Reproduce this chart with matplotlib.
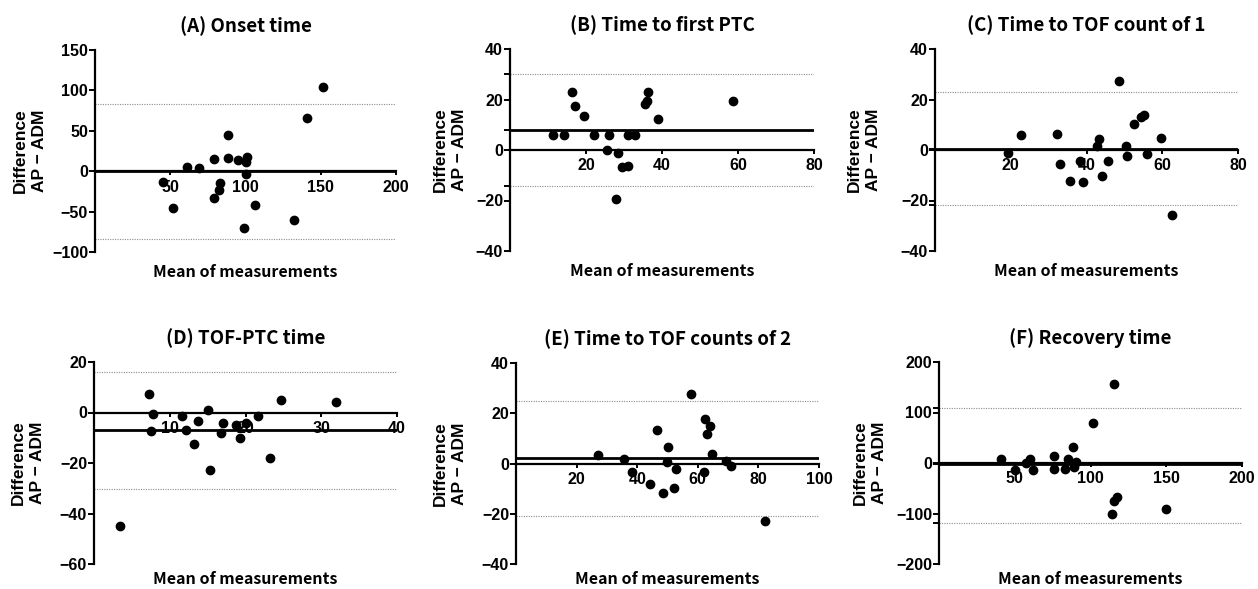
import matplotlib
matplotlib.use("Agg")
import matplotlib.pyplot as plt

a_mean = [45.5, 51.7, 61.1, 69.1, 79.2, 79.2, 82.1, 83.2, 88.3, 88.7,
          94.7, 100.0, 101.1, 100.2, 99.3, 106.4, 132.2, 140.8, 151.7]
a_diff = [-12.8, -45.7, 5.8, 3.7, 15.2, -33.0, -22.7, -14.4, 45.3, 16.1,
          14.4, 11.9, 17.3, -2.9, -70.8, -41.6, -60.5, 65.9, 103.8]

b_mean = [11.3, 14.3, 16.4, 17.2, 19.6, 22.2, 26.0, 25.4, 28.5, 27.9,
          29.6, 31.1, 31.1, 33.0, 35.4, 36.0, 36.2, 38.9, 58.6]
b_diff = [6.1, 6.1, 23.0, 17.4, 13.5, 5.8, 6.1, -0.1, -1.2, -19.3,
          -6.7, -6.5, 6.1, 6.1, 18.3, 19.3, 23.0, 12.4, 19.4]

c_mean = [19.4, 22.6, 32.3, 33.0, 35.6, 38.2, 39.2, 42.8, 43.3, 44.1,
          45.8, 48.6, 50.5, 50.8, 52.5, 54.4, 55.2, 56.1, 59.7, 62.6]
c_diff = [-1.1, 5.8, 6.5, -5.4, -12.1, -4.2, -12.6, 1.6, 4.4, -10.2,
          -4.5, 27.2, 1.7, -2.5, 10.1, 13.1, 14.0, -1.6, 4.9, -25.8]

d_mean = [3.4, 7.2, 7.8, 7.5, 11.6, 12.2, 13.2, 13.7, 15.1, 15.3,
          16.7, 17.0, 18.8, 19.3, 20.1, 21.7, 23.2, 24.7, 31.9]
d_diff = [-45.0, 7.5, -0.5, -7.5, -1.5, -6.8, -12.4, -3.4, 1.0, -22.9,
          -8.3, -4.2, -4.8, -10.2, -4.2, -1.3, -17.9, 4.8, 4.2]

e_mean = [26.9, 35.5, 38.2, 44.2, 46.6, 48.4, 50.0, 49.8, 52.2, 52.9,
          57.8, 62.1, 62.5, 62.9, 64.0, 64.6, 69.2, 71.0, 82.3]
e_diff = [3.2, 1.9, -3.4, -8.1, 13.4, -11.8, 6.5, 0.5, -9.7, -2.1,
          27.6, -3.4, 17.9, 11.7, 14.9, 3.7, 0.9, -0.8, -22.7]

f_mean = [41.1, 50.2, 57.6, 60.3, 62.3, 75.7, 75.7, 83.4, 85.1, 88.2,
          89.3, 90.6, 101.9, 114.4, 115.3, 115.5, 117.3, 149.8]
f_diff = [7.9, -14.6, -0.7, 7.9, -13.9, 13.2, -11.9, -11.9, 7.3, 31.8,
          -7.3, 1.3, 79.5, -100.7, 156.3, -74.8, -68.2, -91.4]

# bias and 95% limits of agreement (lower, bias, upper)
limits = {
    "A": (-83.6, 0.0, 83.6),
    "B": (-14.3, 7.9, 30.1),
    "C": (-21.9, 0.5, 22.9),
    "D": (-30.2, -6.8, 16.2),
    "E": (-20.7, 2.0, 24.8),
    "F": (-119.0, -2.0, 109.0),
}

titles = ["(A) Onset time", "(B) Time to first PTC", "(C) Time to TOF count of 1",
          "(D) TOF-PTC time", "(E) Time to TOF counts of 2", "(F) Recovery time"]

W, H = 1258, 589
fig = plt.figure(figsize=(W / 100, H / 100), dpi=100)

TITLE_FONT = ["Noto Sans CJK JP", "DejaVu Sans"]
TICK_FONT = "Liberation Sans"


def add_panel(box, ylab_x, xlab_y, mean, diff, key, title, xmax, ylim, xticks, yticks, lim_ticks):
    left, top, right, bottom = box
    ax = fig.add_axes([left / W, 1 - bottom / H, (right - left) / W, (bottom - top) / H])
    lo, bias, hi = limits[key]

    ax.set_xlim(0, xmax)
    ax.set_ylim(*ylim)

    # limits of agreement and bias
    ax.axhline(hi, color="#8c8c8c", lw=0.8, ls=(0, (1, 1.2)), zorder=1)
    ax.axhline(lo, color="#8c8c8c", lw=0.8, ls=(0, (1, 1.2)), zorder=1)
    ax.axhline(bias, color="black", lw=2.0, zorder=2)

    ax.scatter(mean, diff, s=36, color="black", zorder=3, clip_on=False)

    for s in ["top", "right"]:
        ax.spines[s].set_visible(False)
    ax.spines["bottom"].set_position(("data", 0))
    ax.spines["bottom"].set_linewidth(1.6)
    ax.spines["left"].set_linewidth(1.6)

    ax.set_xticks(xticks)
    ax.set_yticks(yticks)
    if lim_ticks:
        ax.set_yticks(lim_ticks, minor=True)
    ax.tick_params(axis="y", which="major", direction="out", length=4, width=1.4, pad=1)
    ax.tick_params(axis="y", which="minor", direction="out", length=4, width=1.4)
    ax.tick_params(axis="x", direction="out", length=3, width=1.4, pad=3)
    ax.set_yticklabels([f"{v:g}".replace("-", "\u2212") for v in yticks])
    for lab in ax.get_xticklabels() + ax.get_yticklabels():
        lab.set_fontfamily(TICK_FONT)
        lab.set_fontweight("bold")
        lab.set_fontsize(11.5)

    ax.set_title(title, family=TITLE_FONT, fontsize=13.5, fontweight="bold", pad=13)
    ax.set_xlabel("Mean of measurements", family=TITLE_FONT, fontsize=11.5,
                  fontweight="bold", va="center")
    ax.xaxis.set_label_coords(0.5, xlab_y)
    fig.text(ylab_x / W, 1 - (top + bottom) / 2 / H, "Difference\nAP \u2212 ADM",
             rotation=90, ha="center", va="center", family=TICK_FONT,
             fontsize=12.5, fontweight="bold", linespacing=1.3)
    return ax


add_panel((95, 50, 396, 252), 30, -0.1, a_mean, a_diff, "A", titles[0], 200, (-100, 150),
          [50, 100, 150, 200], [-100, -50, 0, 50, 100, 150], None)
add_panel((510, 49, 814, 251), 450, -0.1, b_mean, b_diff, "B", titles[1], 80, (-40, 40),
          [20, 40, 60, 80], [-40, -20, 0, 20, 40], [-14.3, 7.9, 30.1])
add_panel((935, 49, 1238, 251), 864, -0.1, c_mean, c_diff, "C", titles[2], 80, (-40, 40),
          [20, 40, 60, 80], [-40, -20, 0, 20, 40], [-21.9, 0.5])
add_panel((94, 362, 397, 564), 28, -0.075, d_mean, d_diff, "D", titles[3], 40, (-60, 20),
          [10, 20, 30, 40], [-60, -40, -20, 0, 20], None)
add_panel((516, 363, 819, 564), 450, -0.075, e_mean, e_diff, "E", titles[4], 100, (-40, 40),
          [20, 40, 60, 80, 100], [-40, -20, 0, 20, 40], None)
add_panel((939, 362, 1242, 564), 870, -0.075, f_mean, f_diff, "F", titles[5], 200, (-200, 200),
          [50, 100, 150, 200], [-200, -100, 0, 100, 200], [-119, -2, 109])

fig.savefig("out.png", dpi=100, facecolor="white")
